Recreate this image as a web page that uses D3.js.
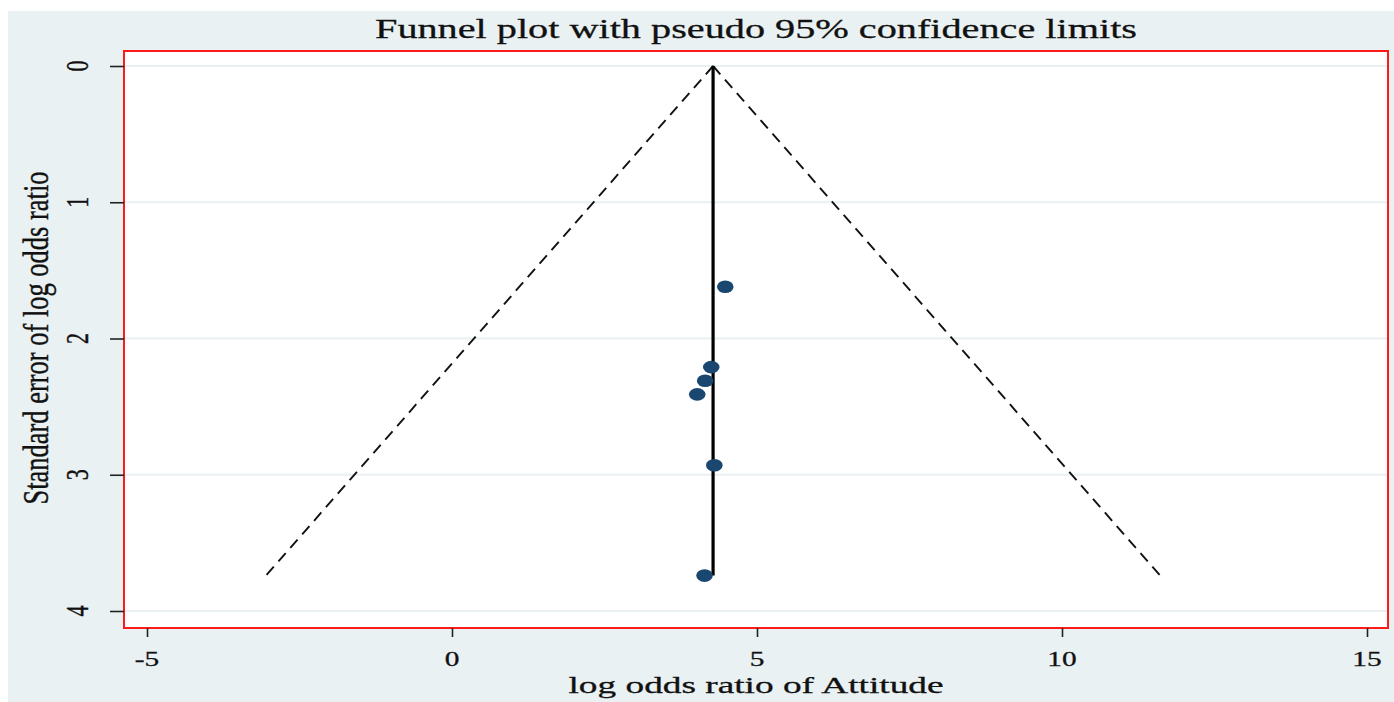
<!DOCTYPE html>
<html>
<head>
<meta charset="utf-8">
<script src="https://cdn.jsdelivr.net/npm/d3@7"></script>
<style>
  html, body { margin: 0; padding: 0; background: #ffffff; }
  svg { display: block; }
  text { font-family: "Liberation Serif", "Times New Roman", serif; fill: #111; stroke: #111; stroke-width: 0.3; }
</style>
</head>
<body>
<svg id="chart" width="1394" height="702"></svg>
<script>
// ---- data ----
const titleText = "Funnel plot with pseudo 95% confidence limits";
const xLabelText = "log odds ratio of Attitude";
const yLabelText = "Standard error of log odds ratio";
const xTicks = [-5, 0, 5, 10, 15];
const yTicks = [0, 1, 2, 3, 4];
const logOddsRatio = [4.48, 4.25, 4.15, 4.02, 4.30, 4.14];
const seLogOddsRatio = [1.62, 2.21, 2.31, 2.41, 2.93, 3.74];
const pooledEstimate = [4.28];
const pooledSE = [0, 3.74];
const funnelSE = [0, 3.74];
const funnelLower = [4.28, -3.05];
const funnelUpper = [4.28, 11.61];

// ---- layout ----
const W = 1394, H = 702;
const sx = 1.4; // horizontal stretch of the reference picture
const plot = { left: 124, right: 1388, top: 51, bottom: 628 };

const svg = d3.select("#chart");

const x = d3.scaleLinear().domain([-5, 15]).range([147, 1367]);
const y = d3.scaleLinear().domain([0, 4]).range([66, 611]);

// outer background
svg.append("rect").attr("x", 8).attr("y", 11).attr("width", W - 8).attr("height", H - 11)
  .attr("fill", "#eaf1f3");

// plot region
svg.append("rect")
  .attr("x", plot.left).attr("y", plot.top)
  .attr("width", plot.right - plot.left).attr("height", plot.bottom - plot.top)
  .attr("fill", "#ffffff");

// gridlines
svg.append("g").selectAll("line").data(yTicks).join("line")
  .attr("x1", plot.left).attr("x2", plot.right)
  .attr("y1", d => y(d)).attr("y2", d => y(d))
  .attr("stroke", "#e8f0f2").attr("stroke-width", 2);

// red border
svg.append("rect")
  .attr("x", plot.left).attr("y", plot.top)
  .attr("width", plot.right - plot.left).attr("height", plot.bottom - plot.top)
  .attr("fill", "none").attr("stroke", "#ff1a1a").attr("stroke-width", 2);

// y axis ticks (left, outside)
const yAxis = d3.axisLeft(y).tickValues(yTicks).tickSize(14).tickFormat("");
const gy = svg.append("g").attr("transform", `translate(${plot.left},0)`).call(yAxis);
gy.select(".domain").remove();
gy.selectAll(".tick line").attr("stroke", "#222").attr("stroke-width", 1.6);

// y tick labels (rotated, stretched)
svg.append("g").selectAll("text").data(yTicks).join("text")
  .attr("transform", d => `translate(78,${y(d)}) scale(${sx},1) rotate(-90)`)
  .attr("text-anchor", "middle")
  .attr("dominant-baseline", "central")
  .attr("font-size", 22)
  .text(d => d);

// x axis ticks (bottom, outside)
const xAxis = d3.axisBottom(x).tickValues(xTicks).tickSize(9).tickFormat("");
const gx = svg.append("g").attr("transform", `translate(0,${plot.bottom})`).call(xAxis);
gx.select(".domain").remove();
gx.selectAll(".tick line").attr("stroke", "#222").attr("stroke-width", 1.6);

// x tick labels
svg.append("g").selectAll("text").data(xTicks).join("text")
  .attr("transform", d => `translate(${x(d)},666) scale(${sx},1)`)
  .attr("text-anchor", "middle")
  .attr("font-size", 21)
  .text(d => d);

// funnel (pseudo 95% limits)
const funnelLine = d3.line().x(d => x(d[0])).y(d => y(d[1]));
[funnelLower, funnelUpper].forEach(arr => {
  svg.append("path")
    .attr("d", funnelLine(arr.map((v, i) => [v, funnelSE[i]])))
    .attr("fill", "none").attr("stroke", "#111")
    .attr("stroke-width", 1.9).attr("stroke-dasharray", "11,7");
});

// pooled estimate line
svg.append("path")
  .attr("d", funnelLine(pooledSE.map(s => [pooledEstimate[0], s])))
  .attr("fill", "none").attr("stroke", "#000").attr("stroke-width", 3.2);

// study points
svg.append("g").selectAll("ellipse").data(logOddsRatio.map((v, i) => [v, seLogOddsRatio[i]])).join("ellipse")
  .attr("cx", d => x(d[0])).attr("cy", d => y(d[1]))
  .attr("rx", 8.3).attr("ry", 6.3)
  .attr("fill", "#1a476f");

// title
svg.append("text")
  .attr("transform", `translate(756,38) scale(${sx},1)`)
  .attr("text-anchor", "middle")
  .attr("font-size", 28)
  .attr("textLength", 762 / sx).attr("lengthAdjust", "spacingAndGlyphs")
  .text(titleText);

// x label
svg.append("text")
  .attr("transform", `translate(756,693) scale(${sx},1)`)
  .attr("text-anchor", "middle")
  .attr("font-size", 24)
  .attr("textLength", 375 / sx).attr("lengthAdjust", "spacingAndGlyphs")
  .text(xLabelText);

// y label
svg.append("text")
  .attr("transform", `translate(48,338) scale(${sx},1) rotate(-90)`)
  .attr("text-anchor", "middle")
  .attr("font-size", 26)
  .attr("textLength", 333).attr("lengthAdjust", "spacingAndGlyphs")
  .text(yLabelText);
</script>
</body>
</html>
